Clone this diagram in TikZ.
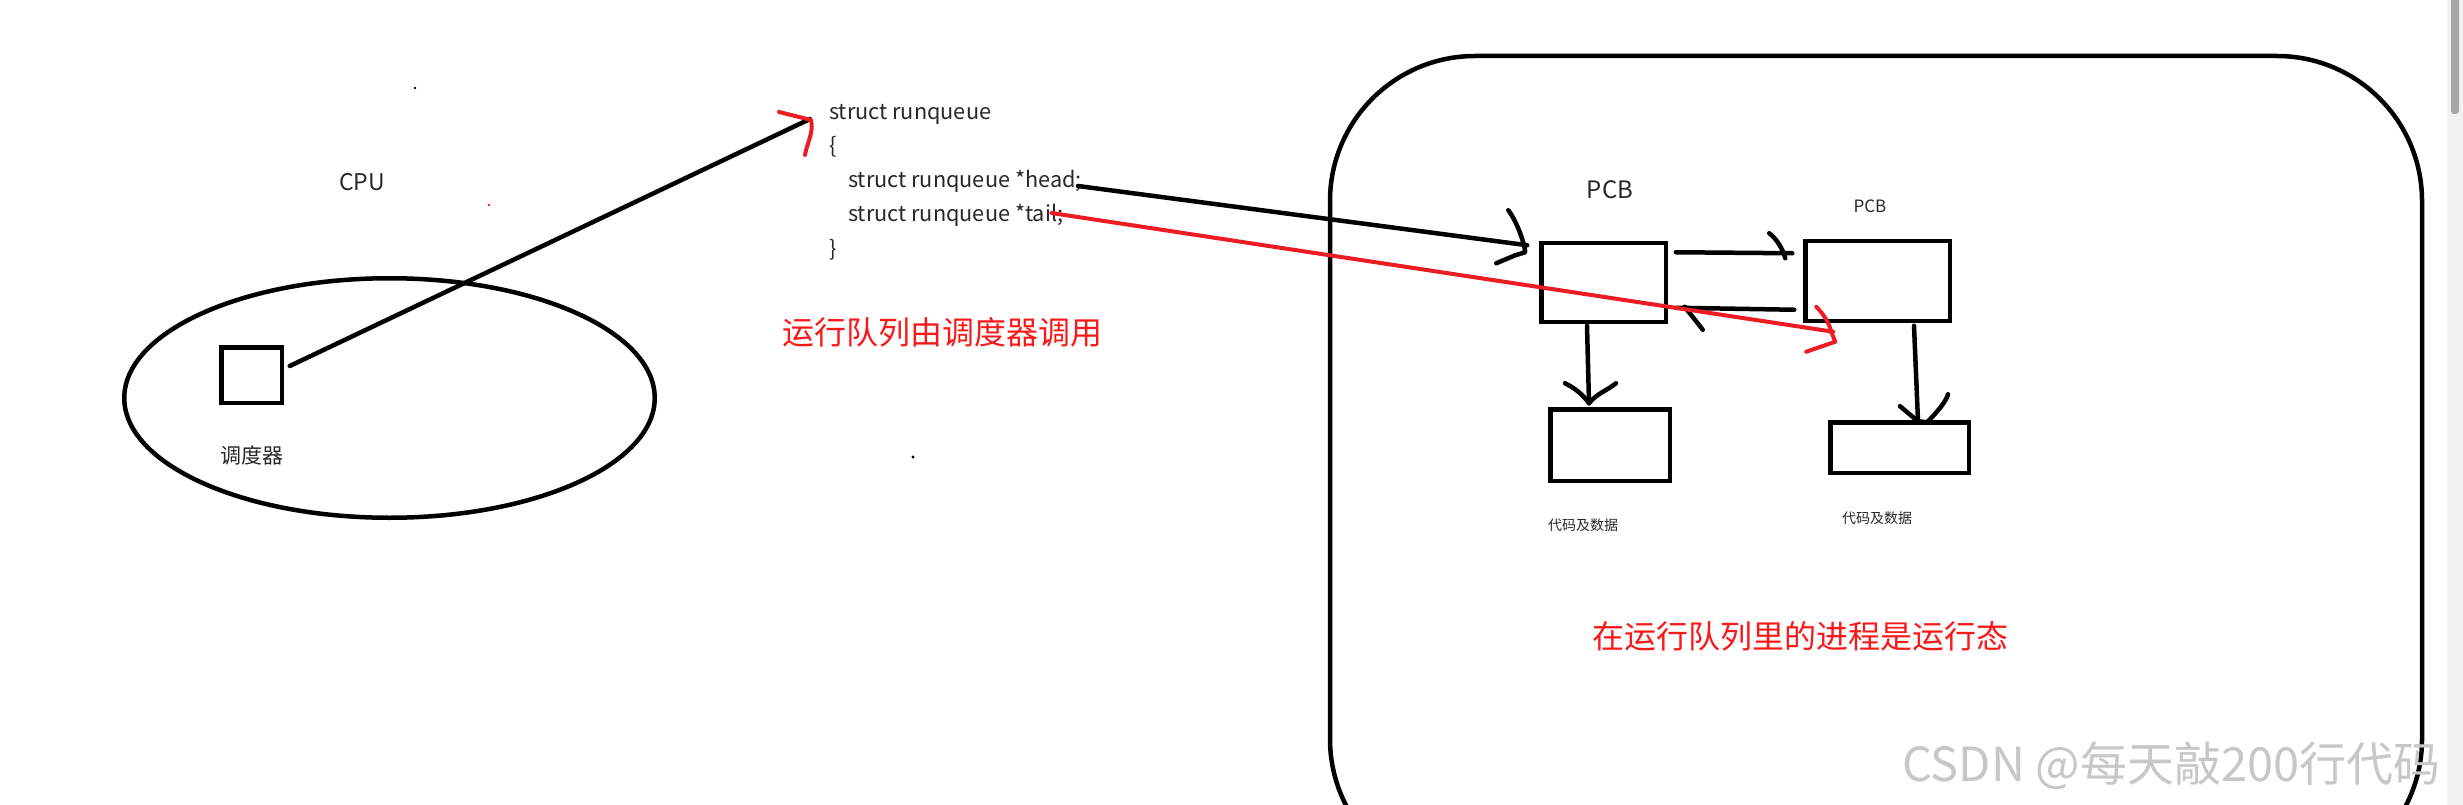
\documentclass[tikz,border=0pt]{standalone}
\usepackage{fontspec}
\setmainfont{Noto Sans CJK SC}
\usepackage{tikz}
\usetikzlibrary{positioning,shapes.geometric}
\definecolor{penred}{RGB}{237,28,36}
\definecolor{notered}{RGB}{250,24,24}
\definecolor{inkgray}{RGB}{40,40,40}
\tikzstyle{pen}=[line width=4.5pt,draw=black,line cap=round,line join=round]
\tikzstyle{redpen}=[line width=4pt,draw=penred,line cap=round,line join=round]
\tikzstyle{pbox}=[rectangle,draw=black,line width=4.5pt,inner sep=0pt,outer sep=0pt]
\tikzstyle{code}=[anchor=base west,inner sep=0pt,text=inkgray,font=\fontsize{21.7}{25}\selectfont]
\tikzstyle{lbl}=[inner sep=0pt,text=inkgray,font=\fontsize{23}{26}\selectfont]
\tikzstyle{note}=[inner sep=0pt,text=notered,font=\fontsize{32}{36}\selectfont]

\begin{document}
\begin{tikzpicture}[x=1pt,y=-1pt]
  \useasboundingbox (0,0) rectangle (2463,805);
  \clip (0,0) rectangle (2463,805);
  \fill[white] (0,0) rectangle (2463,805);
  % scroll bar at the right edge
  \fill[black!5] (2447,0) rectangle (2463,805);
  \fill[black!35,rounded corners=3pt] (2451,-5) rectangle (2459,114);

  % cpu with the scheduler
  \node[ellipse,draw=black,line width=4.5pt,inner sep=0pt,minimum width=530.5pt,minimum height=239.5pt] (cpu) at (389.5,398) {};
  \node[lbl] (cpulbl) at (362,182) {CPU};
  \node[pbox,minimum width=60.5pt,minimum height=55.5pt] (sched) at (251.5,375) {};
  \node[lbl,font=\fontsize{21}{24}\selectfont] (schedlbl) at (252,455) {调度器};
  \fill (415,88) circle (1.3);
  \fill[penred] (489,205) circle (1.3);
  \fill (913,457) circle (1.6);

  % struct runqueue
  \node[code] (rq1) at (829,120) {struct runqueue};
  \node[code] (rq2) at (829,154) {\{};
  \node[code] (rqhead) at (848,188) {struct runqueue *head;};
  \node[code] (rqtail) at (848,222) {struct runqueue *tail;};
  \node[code] (rq5) at (829,256) {\}};
  \coordinate (rqtip) at (810,119);
  \node[note] (callnote) at (942.5,332) {运行队列由调度器调用};

  % run queue area
  \draw[pen,rounded corners=145pt] (1330,56) rectangle (2422,884);
  \node[pbox,minimum width=124.5pt,minimum height=78.5pt] (pcba) at (1603.5,282.5) {};
  \node[pbox,minimum width=144.5pt,minimum height=79.5pt] (pcbb) at (1877.5,281) {};
  \node[pbox,minimum width=119.5pt,minimum height=71.5pt] (dataa) at (1610,445) {};
  \node[pbox,minimum width=138.5pt,minimum height=50.5pt] (datab) at (1899.5,447.5) {};
  \node[lbl,font=\fontsize{24}{26}\selectfont] (pcbalbl) at (1610,190) {PCB};
  \node[lbl,font=\fontsize{17}{20}\selectfont] (pcbblbl) at (1870,206) {PCB};
  \node[lbl,font=\fontsize{14}{16}\selectfont] (dataalbl) at (1583,525) {代码及数据};
  \node[lbl,font=\fontsize{14}{16}\selectfont] (datablbl) at (1877,518) {代码及数据};
  \node[note,font=\fontsize{32}{36}\selectfont] (statenote) at (1800.5,636) {在运行队列里的进程是运行态};

  % connectors
  \draw[pen] ([shift={(8,-9)}]sched.east) -- (rqtip);
  \draw[redpen] ([shift={(-31,-7)}]rqtip) -- ([shift={(1,1)}]rqtip) .. controls +(3,12) and +(2,-12) .. ([shift={(-5,36)}]rqtip);
  \draw[pen] ([shift={(-4,-2)}]rqhead.base east) -- ([shift={(-14,2)}]pcba.north west) coordinate (t1);
  \draw[pen] ([shift={(-19,-35)}]t1) .. controls +(8,10) and +(-1,-10) .. ([shift={(-2,7)}]t1) -- ([shift={(-12,10)}]t1) -- ([shift={(-31,18)}]t1);
  \draw[pen] ([shift={(10,9)}]pcba.north east) -- ([shift={(-13,12)}]pcbb.north west) coordinate (t2);
  \draw[pen] ([shift={(-23,-20)}]t2) .. controls +(8,6) and +(-2,-8) .. ([shift={(-7,5)}]t2);
  \draw[pen] ([shift={(-11,-11)}]pcbb.south west) -- ([shift={(10,-14)}]pcba.south east) coordinate (t3);
  \draw[pen] ([shift={(9,-1)}]t3) .. controls +(6,8) and +(-6,-8) .. ([shift={(27,22)}]t3);
  \draw[pen] ([shift={(-16.5,4)}]pcba.south) -- ([shift={(-21,-6)}]dataa.north) coordinate (t4);
  \draw[pen] ([shift={(-24,-20)}]t4) .. controls +(12,6) and +(-6,-8) .. (t4) .. controls +(8,-10) and +(-10,8) .. ([shift={(27,-20)}]t4);
  \draw[pen] ([shift={(36.5,5)}]pcbb.south) -- ([shift={(18.5,-1)}]datab.north) coordinate (t5);
  \draw[pen] ([shift={(-18,-15)}]t5) -- (t5) -- ([shift={(9,1)}]t5) .. controls +(8,-8) and +(-2,8) .. ([shift={(30,-27)}]t5);
  \draw[redpen] ([shift={(-12,-9)}]rqtail.base east) -- ([shift={(28,11)}]pcbb.south west) coordinate (t6);
  \draw[redpen] ([shift={(-17,-25)}]t6) .. controls +(8,8) and +(-2,-8) .. ([shift={(-2,0)}]t6) -- ([shift={(2,10)}]t6) -- ([shift={(-27,20)}]t6);

  % watermark
  \node[anchor=west,inner sep=0pt,text=black!22,font=\fontsize{47}{50}\selectfont] (mark) at (1902,766) {CSDN @每天敲200行代码};
\end{tikzpicture}
\end{document}
